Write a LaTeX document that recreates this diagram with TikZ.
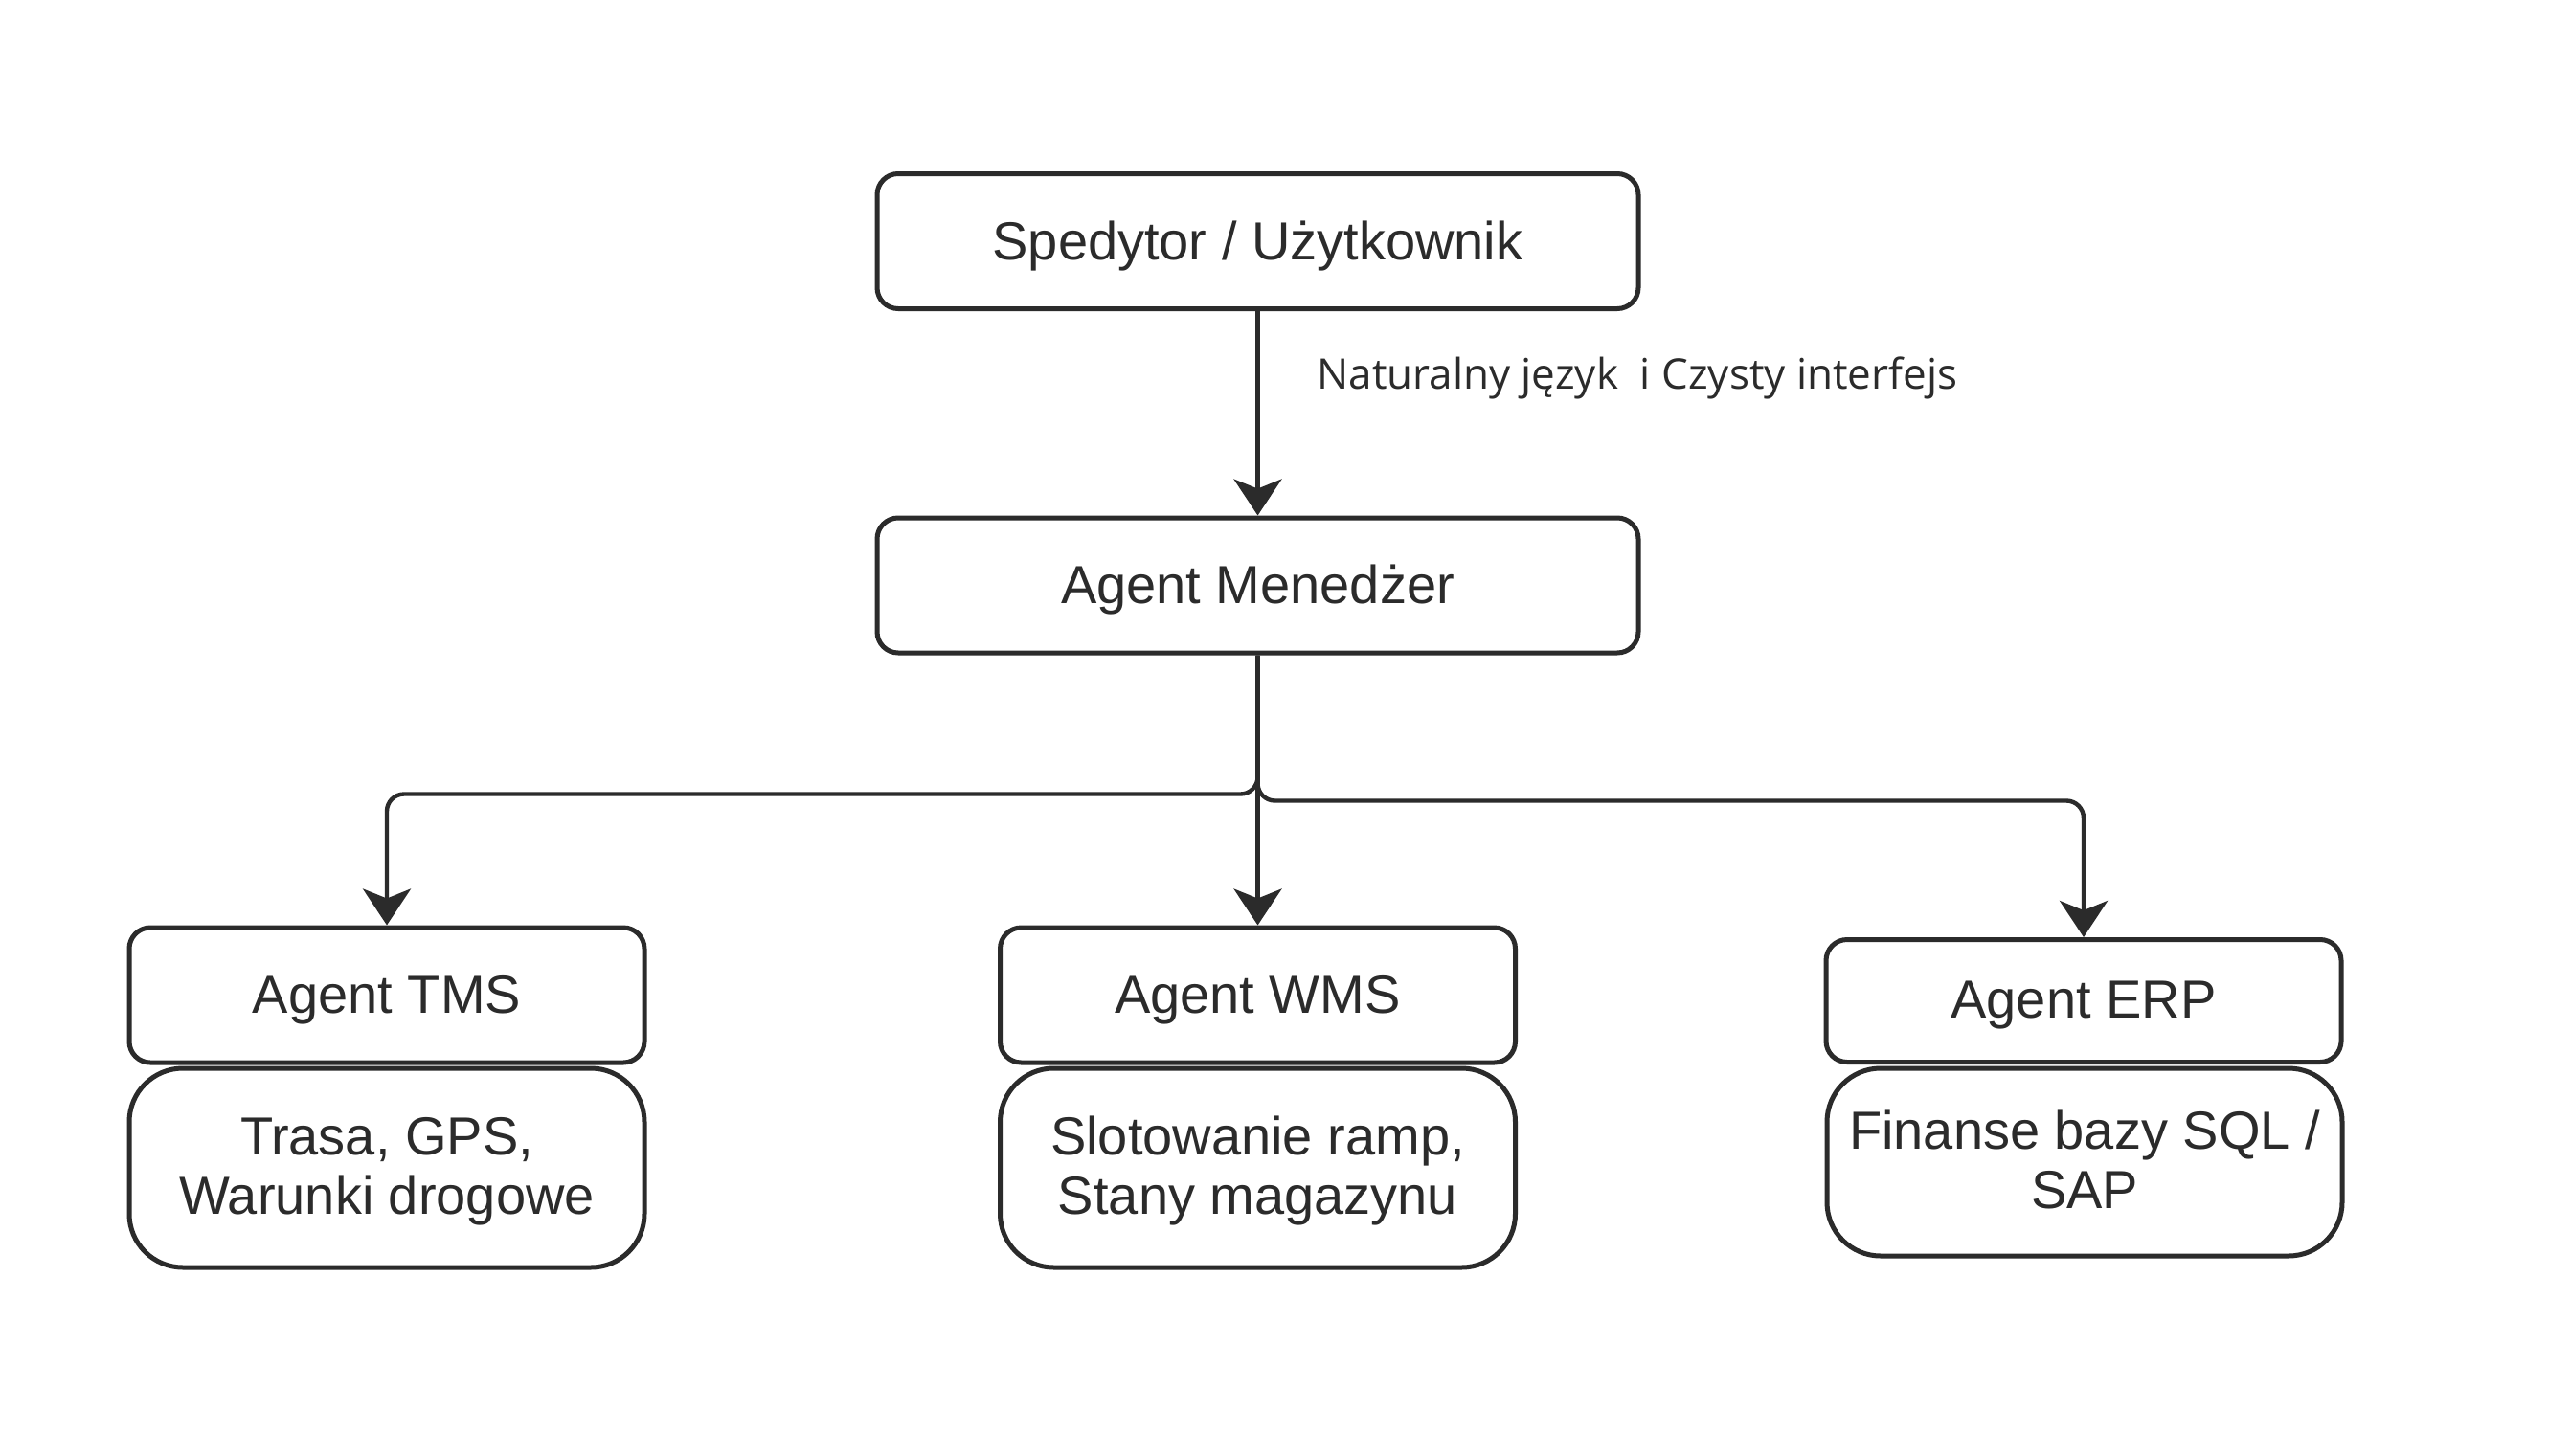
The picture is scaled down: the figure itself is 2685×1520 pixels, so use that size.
\documentclass[tikz,border=0pt]{standalone}
\usepackage{fontspec}
\setmainfont{Liberation Sans}
\newfontfamily\labelfont{Open Sans}
\usetikzlibrary{arrows.meta}
\definecolor{ink}{HTML}{2B2B2B}
\newcommand{\dn}[2][2.5pt]{\raisebox{-#1}[\height][\depth]{#2}}
\begin{document}
\begin{tikzpicture}[x=0.5pt,y=-0.5pt,
  box/.style={draw=ink, line width=2.5pt, rounded corners=11pt, text=ink,
    font=\fontsize{28}{31}\selectfont, align=center, inner sep=0pt},
  topbox/.style={box, minimum width=397.5pt, minimum height=70.5pt},
  agentbox/.style={box, minimum width=269pt, minimum height=70.5pt},
  detailbox/.style={box, rounded corners=28pt, minimum width=269pt, minimum height=104pt},
  conn/.style={draw=ink, line width=2.2pt, rounded corners=9pt,
    -{Stealth[length=19pt,width=25pt,inset=5pt]}},
  lbl/.style={text=ink, font=\labelfont\fontsize{22}{26}\selectfont, inner sep=0pt}]
\path[use as bounding box, fill=white] (0,0) rectangle (2685,1520);

\node[topbox] (sped) at (1313.5,252) {\dn{Spedytor / Użytkownik}};
\node[topbox] (mgr) at (1313.5,611.5) {\dn{Agent Menedżer}};

\node[agentbox] (tms) at (404,1039.5) {\dn{Agent TMS}};
\node[detailbox] (tmsd) at (404,1220) {\dn[1.75pt]{Trasa, GPS,}\\\dn[1.75pt]{Warunki drogowe}};

\node[agentbox] (wms) at (1313.5,1039.5) {\dn{Agent WMS}};
\node[detailbox] (wmsd) at (1313.5,1220) {\dn[1.75pt]{Slotowanie ramp,}\\\dn[1.75pt]{Stany magazynu}};

\node[agentbox, minimum height=64pt] (erp) at (2176,1045.5) {\dn{Agent ERP}};
\node[detailbox, minimum height=98pt] (erpd) at (2177,1214) {\dn[-1.2pt]{Finanse bazy SQL /}\\\dn[-1.2pt]{SAP}};

\draw[conn] (sped) -- (mgr);
\node[lbl, anchor=west] (lab) at (1375,395) {Naturalny język\ \ i Czysty interfejs};

\draw[conn] (mgr.south) -- ++(0,145) -| (tms.north);
\draw[conn] (mgr.south) -- (wms.north);
\draw[conn] (mgr.south) -- ++(0,152) -| (erp.north);
\end{tikzpicture}
\end{document}
